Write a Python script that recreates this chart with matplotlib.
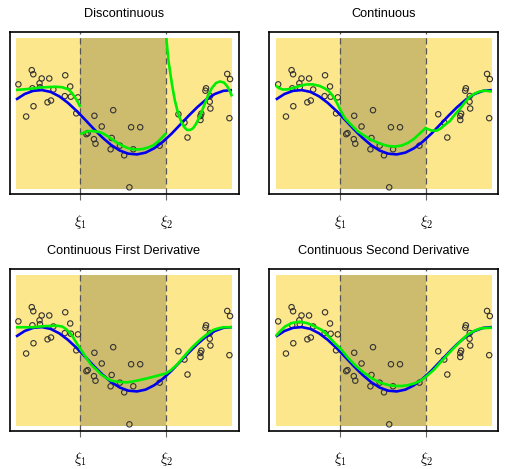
import matplotlib
matplotlib.use("Agg")
import matplotlib.pyplot as plt
from matplotlib.patches import Rectangle

plt.rcParams['mathtext.fontset'] = 'cm'

# ---------------- data ----------------
xi1, xi2 = 0.298, 0.696
titles = ["Discontinuous", "Continuous",
          "Continuous First Derivative", "Continuous Second Derivative"]
tick_labels = [r"$\xi_1$", r"$\xi_2$"]

pts_x = [0.011, 0.073, 0.080, 0.119, 0.154, 0.228, 0.109, 0.111, 0.076, 0.173,
         0.251, 0.226, 0.254, 0.287, 0.146, 0.162, 0.081, 0.047, 0.279,
         0.332, 0.326, 0.363, 0.397, 0.361, 0.368, 0.450, 0.443, 0.438, 0.481,
         0.501, 0.533, 0.575, 0.543, 0.525, 0.665,
         0.978, 0.991, 0.880, 0.877, 0.898, 0.897, 0.900, 0.752, 0.858, 0.854,
         0.854, 0.988, 0.780, 0.794]
pts_y = [0.693, 0.787, 0.760, 0.732, 0.732, 0.753, 0.700, 0.674, 0.667, 0.659,
         0.679, 0.615, 0.611, 0.607, 0.574, 0.586, 0.548, 0.480, 0.501,
         0.370, 0.363, 0.485, 0.414, 0.330, 0.300, 0.522, 0.338, 0.263, 0.287,
         0.223, 0.409, 0.409, 0.263, 0.011, 0.287,
         0.762, 0.728, 0.667, 0.651, 0.616, 0.578, 0.533, 0.495, 0.499, 0.483,
         0.457, 0.469, 0.440, 0.341]

true_x = [0.00, 0.04, 0.08, 0.12, 0.16, 0.20, 0.24, 0.28, 0.32, 0.36, 0.40, 0.44, 0.48,
          0.52, 0.56, 0.60, 0.64, 0.68, 0.72, 0.76, 0.80, 0.84, 0.88, 0.92, 0.96, 1.00]
true_y = [0.592, 0.629, 0.650, 0.655, 0.643, 0.614, 0.571, 0.518, 0.459, 0.398, 0.341,
          0.292, 0.255, 0.234, 0.229, 0.241, 0.270, 0.313, 0.366, 0.426, 0.486, 0.543,
          0.592, 0.629, 0.650, 0.655]

# Discontinuous fit: three separate pieces
disc_x1 = [0.000, 0.037, 0.074, 0.111, 0.148, 0.185, 0.213, 0.241, 0.259, 0.278, 0.287, 0.298]
disc_y1 = [0.656, 0.660, 0.665, 0.672, 0.675, 0.677, 0.674, 0.661, 0.636, 0.596, 0.573, 0.543]
disc_x2 = [0.298, 0.315, 0.333, 0.352, 0.380, 0.403, 0.426, 0.449, 0.472, 0.495, 0.519,
           0.542, 0.565, 0.588, 0.611, 0.634, 0.657, 0.676, 0.696]
disc_y2 = [0.363, 0.374, 0.383, 0.384, 0.379, 0.368, 0.348, 0.325, 0.303, 0.285, 0.270,
           0.263, 0.262, 0.265, 0.275, 0.288, 0.313, 0.341, 0.371]
disc_x3 = [0.696, 0.701, 0.706, 0.713, 0.721, 0.729, 0.736, 0.750, 0.764, 0.778, 0.792,
           0.806, 0.819, 0.833, 0.852, 0.870, 0.889, 0.907, 0.926, 0.944, 0.963, 0.977,
           0.991, 1.000]
disc_y3 = [1.000, 0.921, 0.848, 0.781, 0.702, 0.636, 0.583, 0.503, 0.450, 0.411, 0.391,
           0.391, 0.401, 0.430, 0.483, 0.550, 0.616, 0.669, 0.702, 0.712, 0.705, 0.682,
           0.646, 0.613]

cont_x = [0.000, 0.014, 0.032, 0.056, 0.088, 0.111, 0.139, 0.171, 0.204, 0.227, 0.245,
          0.264, 0.282, 0.301, 0.319, 0.352, 0.380, 0.412, 0.444, 0.481, 0.519, 0.551,
          0.583, 0.611, 0.639, 0.667, 0.694, 0.708, 0.722, 0.745, 0.764, 0.782, 0.806,
          0.829, 0.852, 0.875, 0.898, 0.921, 0.944, 0.968, 1.000]
cont_y = [0.685, 0.669, 0.659, 0.660, 0.672, 0.682, 0.692, 0.693, 0.682, 0.666, 0.649,
          0.616, 0.573, 0.517, 0.470, 0.421, 0.381, 0.351, 0.325, 0.301, 0.285, 0.281,
          0.288, 0.305, 0.331, 0.368, 0.404, 0.394, 0.387, 0.387, 0.401, 0.424, 0.450,
          0.493, 0.530, 0.573, 0.611, 0.632, 0.646, 0.651, 0.646]

d1_x = [0.000, 0.042, 0.079, 0.111, 0.144, 0.190, 0.213, 0.227, 0.241, 0.258, 0.281,
        0.298, 0.327, 0.347, 0.374, 0.394, 0.420, 0.440, 0.466, 0.513, 0.542, 0.574,
        0.606, 0.636, 0.667, 0.696, 0.718, 0.744, 0.764, 0.790, 0.819, 0.852, 0.880,
        0.913, 0.935, 0.960, 1.000]
d1_y = [0.654, 0.654, 0.654, 0.659, 0.662, 0.664, 0.659, 0.647, 0.629, 0.603, 0.548,
        0.510, 0.448, 0.407, 0.371, 0.341, 0.316, 0.301, 0.293, 0.289, 0.295, 0.305,
        0.315, 0.326, 0.338, 0.349, 0.371, 0.404, 0.437, 0.481, 0.526, 0.570, 0.603,
        0.636, 0.646, 0.654, 0.654]

d2_x = [0.000, 0.019, 0.042, 0.074, 0.111, 0.148, 0.181, 0.213, 0.241, 0.273, 0.301,
        0.333, 0.366, 0.403, 0.444, 0.481, 0.519, 0.551, 0.583, 0.611, 0.644, 0.671,
        0.694, 0.731, 0.764, 0.796, 0.829, 0.861, 0.889, 0.921, 0.949, 1.000]
d2_y = [0.596, 0.626, 0.658, 0.682, 0.691, 0.680, 0.659, 0.636, 0.599, 0.548, 0.510,
        0.454, 0.404, 0.358, 0.316, 0.288, 0.272, 0.265, 0.265, 0.270, 0.283, 0.301,
        0.325, 0.371, 0.424, 0.474, 0.523, 0.570, 0.606, 0.632, 0.647, 0.651]

fits = [[(disc_x1, disc_y1), (disc_x2, disc_y2), (disc_x3, disc_y3)],
        [(cont_x, cont_y)],
        [(d1_x, d1_y)],
        [(d2_x, d2_y)]]

# ---------------- layout ----------------
W, H = 511, 469
frames = [(9.5, 32.3, 238.5, 194.0), (269.3, 32.3, 498.3, 194.0),
          (9.5, 269.3, 238.5, 431.0), (269.3, 269.3, 498.3, 431.0)]
light = "#FDE78C"
dark = "#CDBC6E"

fig = plt.figure(figsize=(W / 100, H / 100), dpi=100)

for i, (l, t, r, b) in enumerate(frames):
    ax = fig.add_axes([l / W, 1 - b / H, (r - l) / W, (b - t) / H])
    ax.set_xlim(-6.5 / 216, 1 + 6.5 / 216)
    ax.set_ylim(-5.0 / 151, 1 + 5.7 / 151)
    ax.add_patch(Rectangle((0, 0), xi1, 1, facecolor=light, edgecolor="none", zorder=0))
    ax.add_patch(Rectangle((xi1, 0), xi2 - xi1, 1, facecolor=dark, edgecolor="none", zorder=0))
    ax.add_patch(Rectangle((xi2, 0), 1 - xi2, 1, facecolor=light, edgecolor="none", zorder=0))
    for k in (xi1, xi2):
        ax.axvline(k, color="#555555", lw=0.9, ls=(0, (5, 3)), zorder=1)
    ax.scatter(pts_x, pts_y, s=15, facecolors="none", edgecolors="#333333",
               linewidths=0.8, zorder=2)
    ax.plot(true_x, true_y, color="#0000EE", lw=1.9, zorder=3, solid_capstyle="butt")
    for fx, fy in fits[i]:
        ax.plot(fx, fy, color="#00EE00", lw=1.9, zorder=4, solid_capstyle="butt")
    ax.set_xticks([xi1, xi2])
    ax.set_xticklabels(tick_labels, fontsize=10.5)
    ax.tick_params(axis="x", length=4.3, width=0.8, color="#666666", pad=9.5)
    ax.set_yticks([])
    for s in ax.spines.values():
        s.set_linewidth(1.2)
        s.set_color("black")
    ax.set_title(titles[i], fontsize=9.15, family="Liberation Sans", pad=11)

fig.savefig("out.png", dpi=100)
